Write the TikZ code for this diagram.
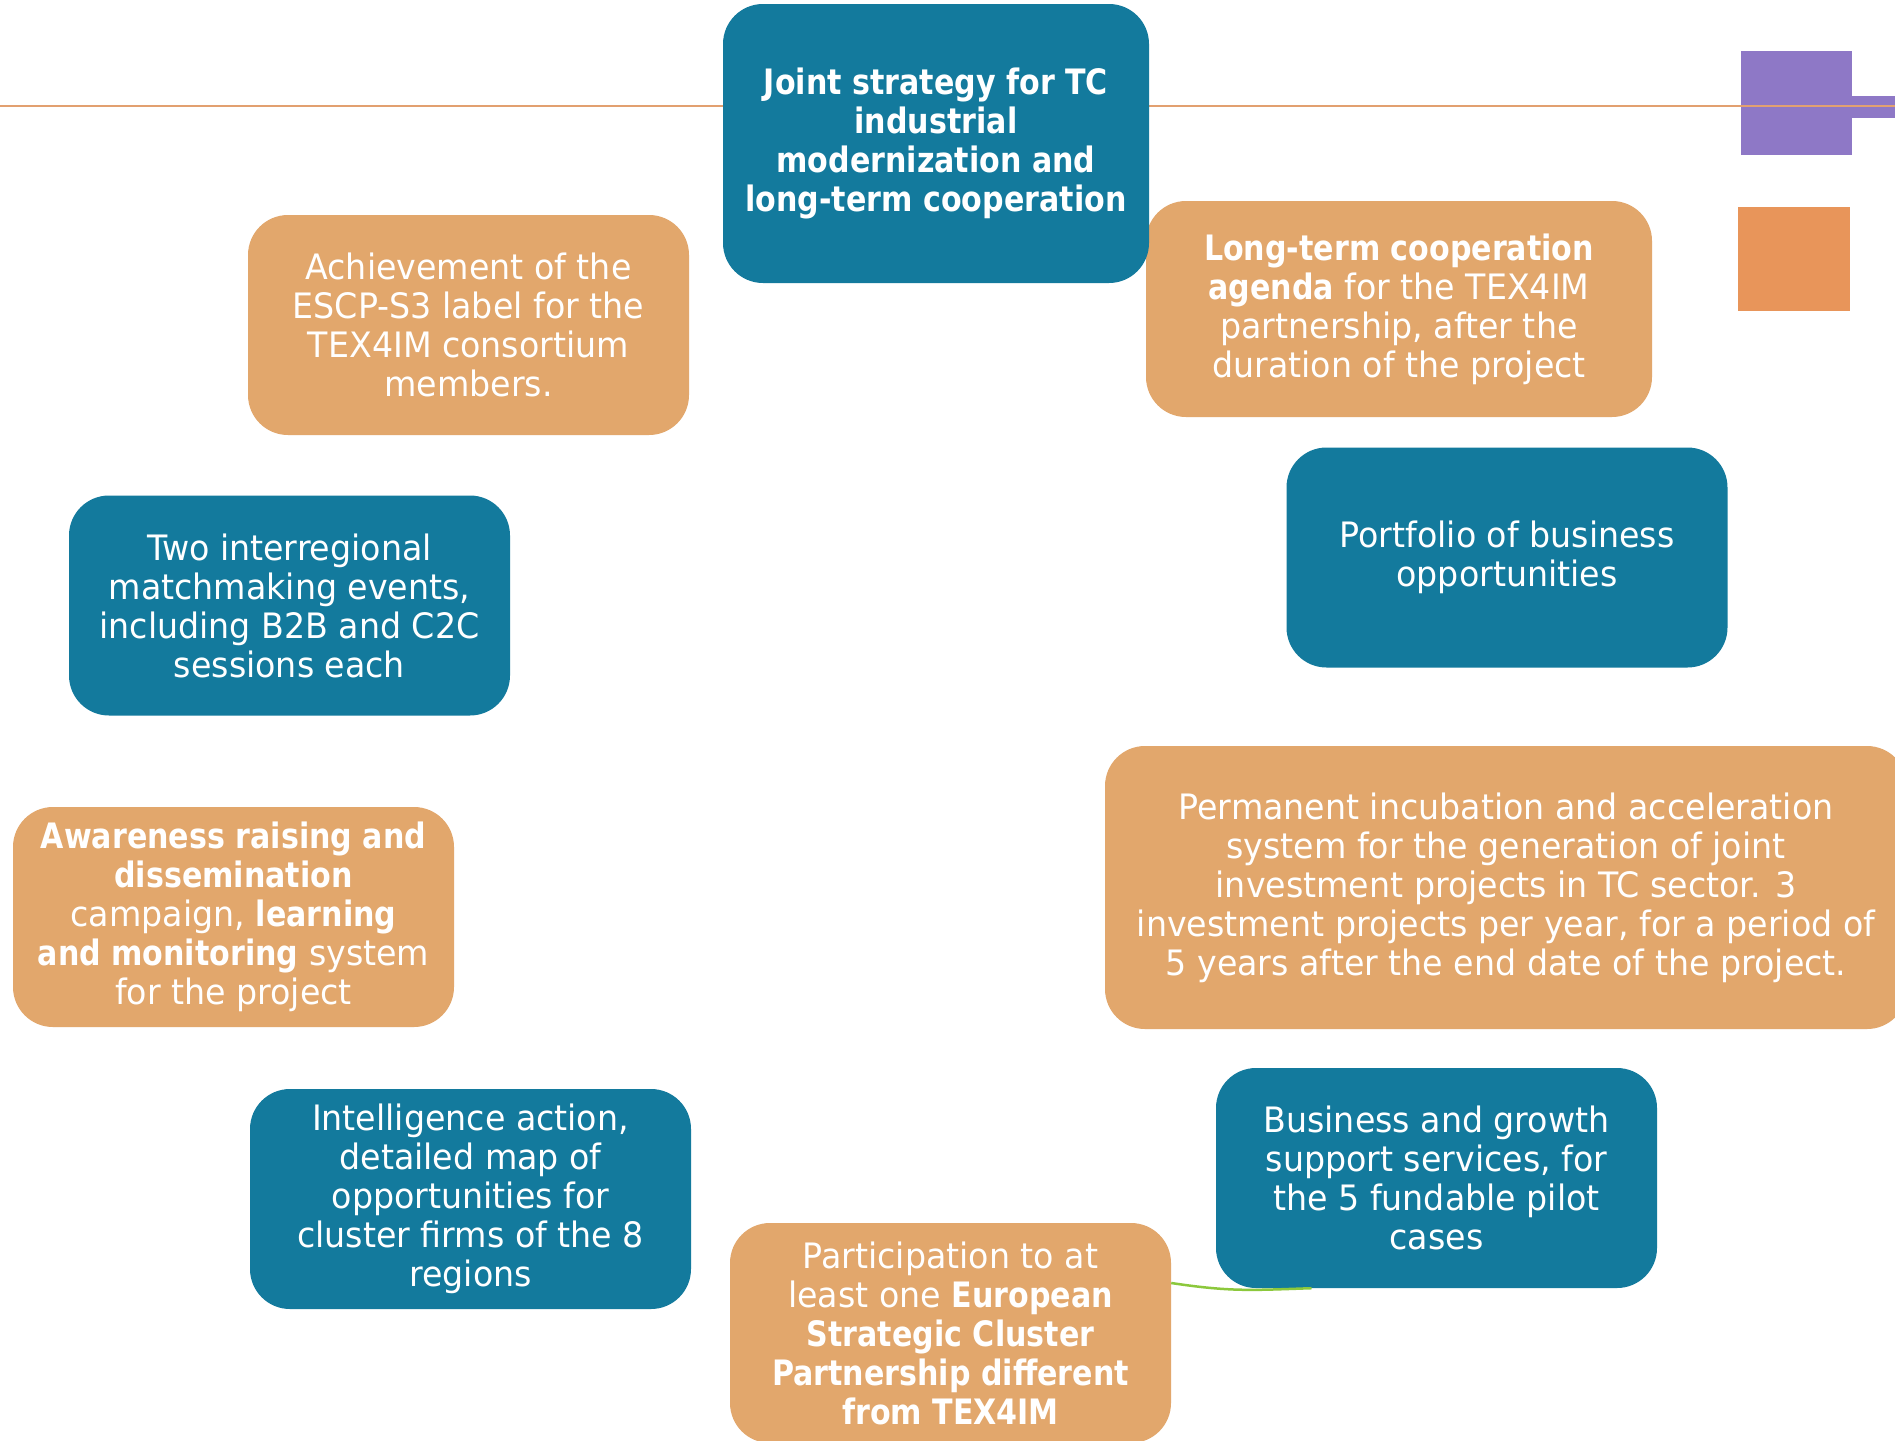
\documentclass[tikz,border=0pt]{standalone}
\usepackage{fontspec}
\setmainfont{DejaVu Sans}[FakeStretch=0.95]
\newfontfamily\bfam{DejaVu Sans}[FakeStretch=0.86]
\newcommand{\B}[1]{{\bfam\bfseries #1}}
\definecolor{tealbox}{RGB}{19,122,157}
\definecolor{orangebox}{RGB}{226,167,108}
\definecolor{purplesq}{RGB}{142,120,198}
\definecolor{orangesq}{RGB}{232,149,90}
\definecolor{lineor}{RGB}{226,160,112}
\definecolor{greenln}{RGB}{140,200,60}
\tikzset{
  box/.style={rounded corners=40pt, inner sep=0pt, text=white, align=center,
    font=\fontsize{35}{39}\selectfont, minimum width=441pt, minimum height=220pt},
  tbox/.style={box, fill=tealbox},
  obox/.style={box, fill=orangebox},
}
\begin{document}
\begin{tikzpicture}[x=1pt,y=-1pt]
\clip (0,0) rectangle (1895,1440);
\fill[white] (0,0) rectangle (1895,1440);
% decorative squares
\fill[purplesq] (1741,51) rectangle (1852,155);
\fill[purplesq] (1850,96) rectangle (1895,118);
\fill[orangesq] (1738,207) rectangle (1850,311);
% horizontal line
\draw[lineor, line width=2pt] (0,106) -- (1895,106);
% boxes
\node[obox, minimum width=506pt, minimum height=216pt] (agenda) at (1399,309)
  {\B{Long-term cooperation}\\\B{agenda} for the TEX4IM\\partnership, after the\\duration of the project};
\node[tbox, minimum width=426pt, minimum height=279pt] (joint) at (936,143.5)
  {\B{Joint strategy for TC}\\\B{industrial}\\\B{modernization and}\\\B{long-term cooperation}};
\node[obox] (label) at (468.5,325)
  {Achievement of the\\ESCP-S3 label for the\\TEX4IM consortium\\members.};
\node[tbox] (portfolio) at (1507,557.5)
  {Portfolio of business\\opportunities};
\node[tbox] (match) at (289.5,605.5)
  {Two interregional\\matchmaking events,\\including B2B and C2C\\sessions each};
\node[obox, minimum width=802pt, minimum height=283pt] (incub) at (1506,887.5)
  {Permanent incubation and acceleration\\system for the generation of joint\\investment projects in TC sector. 3\\investment projects per year, for a period of\\5 years after the end date of the project.};
\node[obox] (aware) at (233.5,917)
  {\B{Awareness raising and}\\\B{dissemination}\\campaign, \B{learning}\\\B{and monitoring} system\\for the project};
\node[tbox] (business) at (1436.5,1178)
  {Business and growth\\support services, for\\the 5 fundable pilot\\cases};
\node[tbox] (intel) at (470.5,1199)
  {Intelligence action,\\detailed map of\\opportunities for\\cluster firms of the 8\\regions};
\node[obox] (escp) at (950.5,1333)
  {Participation to at\\least one \B{European}\\\B{Strategic Cluster}\\\B{Partnership different}\\\B{from TEX4IM}};
% connector
\draw[greenln, line width=2.5pt] ([yshift=50pt]escp.east) .. controls +(60,9) and +(-60,2) .. ([xshift=-125pt]business.south);
\end{tikzpicture}
\end{document}
